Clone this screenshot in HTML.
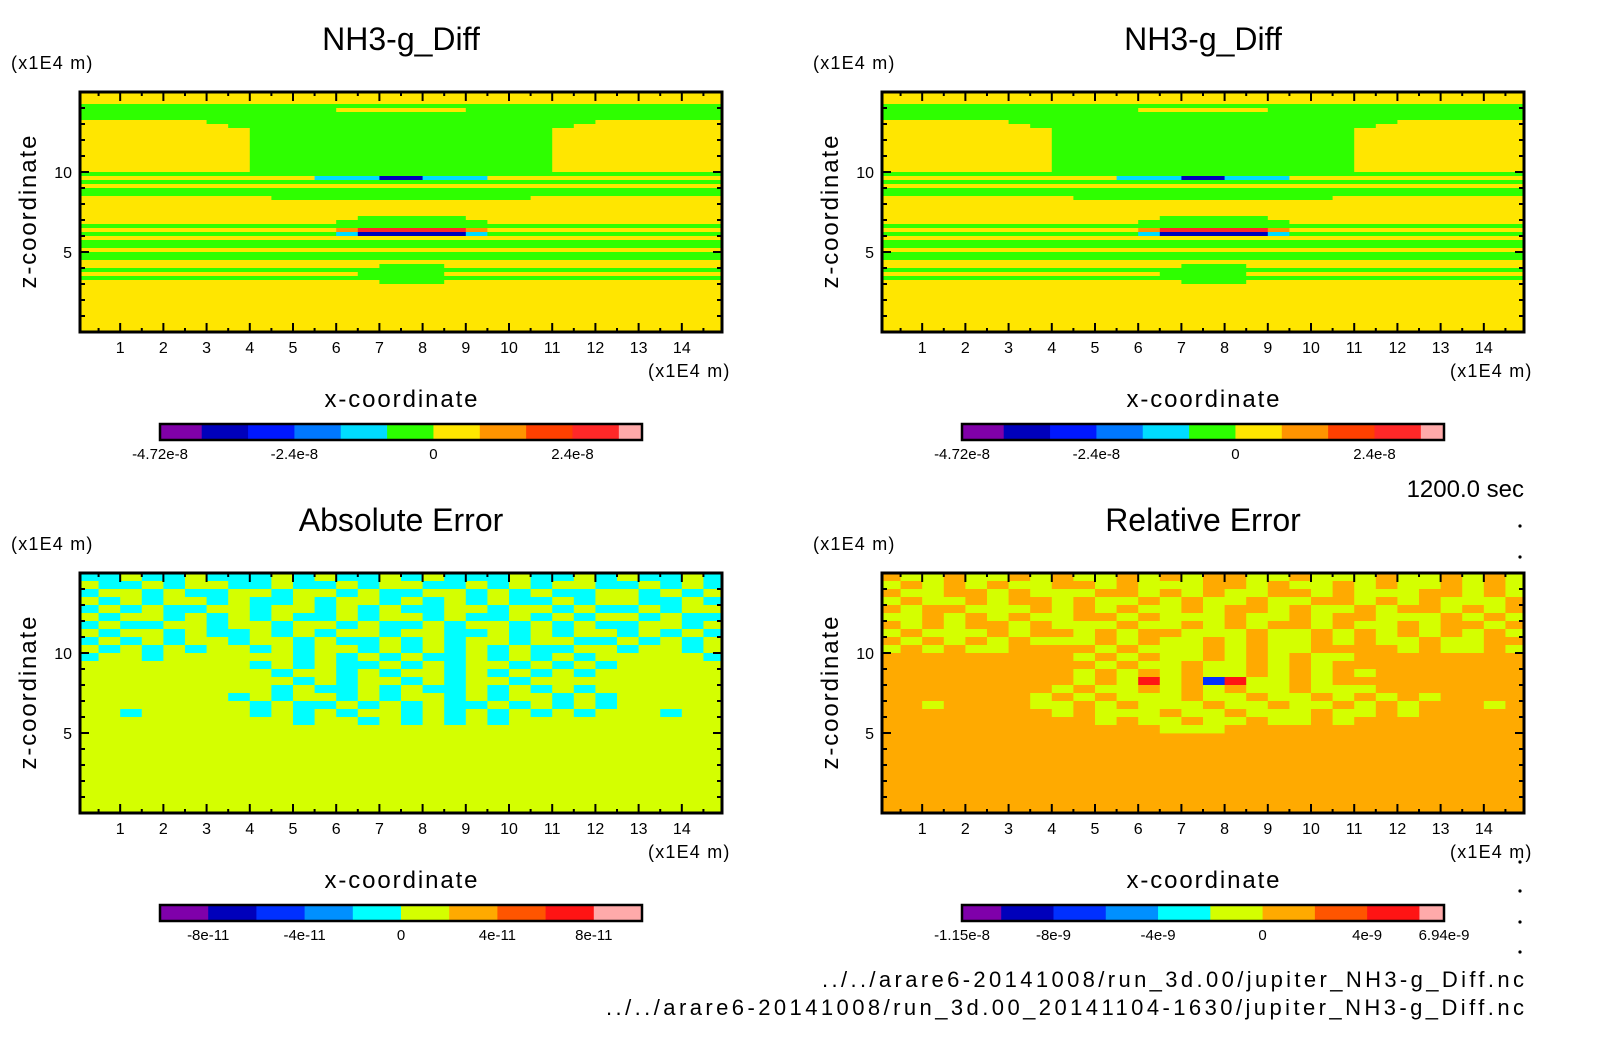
<!DOCTYPE html>
<html><head><meta charset="utf-8"><style>
html,body{margin:0;padding:0;background:#fff;}
svg{display:block;font-family:"Liberation Sans",sans-serif;}
</style></head><body>
<svg id="fig" width="1604" height="1054" viewBox="0 0 1604 1054" xmlns="http://www.w3.org/2000/svg"></svg>
<script>
// ---------- data ----------
const xTicks = [1,2,3,4,5,6,7,8,9,10,11,12,13,14];
const zTicks = [5,10];
const xDomain = [0.07,14.93];
const zDomain = [0,15];
const gridX = [0,15];
const gridZ = [0,15];

// NH3-g_Diff field (run-length rows, top z=15 to bottom z=0, 30 cols x 60 rows)
const diffRows = [
"30Y","30Y","30Y","30G","12G6Y12G","30G","30G","6Y18G6Y","7Y16G7Y",
"8Y14G8Y","8Y14G8Y","8Y14G8Y","8Y14G8Y","8Y14G8Y","8Y14G8Y","8Y14G8Y","8Y14G8Y","8Y14G8Y","8Y14G8Y","8Y14G8Y",
"30G","11Y3c2b3c11Y","30G","30Y","30G","30G","9Y12G9Y","30Y","30Y","30Y","30Y",
"13Y5G12Y","12Y7G11Y","30G","12Y1o5r1o11Y","12G1c5b1c11G","30Y","30G","30G","30Y","30G","30G","30Y",
"14Y3G13Y","30G","13Y4G13Y","30G","14Y3G13Y",
"30Y","30Y","30Y","30Y","30Y","30Y","30Y","30Y","30Y","30Y","30Y","30Y"
];
// Absolute error field (30 cols x 30 rows)
const absRows = [
"cc.cc.ccc.c.cc.c.ccc.cc.c.cc.c",
".cc.c..cc.cc.c..cc.c.c..cc.c.c",
"c..c.cc..c..c.cc..c.c.cc..c.c.",
".c.c..c.cc.c..c.c.c.cc.c..cc.c",
"c.c.cc..c..c.c.cc..c..c.cc.c..",
".c..c.c.c.cc.c..c.cc.c.c..c.cc",
"c.cc..c..c..c.cc.c..c.c.cc..c.",
".c..c.cc.c.c..c..cc.c.c..c.c.c",
"c.c.c..c..c.cc.c.c..c..cc.c.c.",
".c.c.c..c.c..c.c.c.c.cc..c..c.",
"c..c......c.c.c.cc.c.c.c.....c",
"........c.c.cc.c.c..c.c.c.....",
".........c..c.c..c.c.c.c......",
"..........c.c..c.c..c.........",
".........c.cc.c.cc.c.c.c......",
".......c.c..c.c..c.c..c.c.....",
"........c.cc.c.c.cc.c.c.c.....",
"..c.....c.c.c..c.c.c.c.c...c..",
"..........c..c.c.c.c..........",
".............................."
];
// Relative error field (30 cols x 30 rows)
const relRows = [
"oggoggogoggogogooggogggoggogog",
"gogogoggoogogggoogoggogoggogog",
"oggoogogggoogogoggoogogggoogog",
"goggogoogoggogoggoggoogogogggo",
"ogoogggogogoggogoogoggogoogogo",
"ggogogoggoogogggoggogoogggogog",
"ogogoogogggoggogogoogoggogoogo",
"gogggogoogogoogggoggogogogogog",
"ogogogogggogoggogoggogoggoggoo",
"gogoggoooogogggogoggoooogoggog",
"ooooooooogogoggogogoggoooooooo",
"oooooooooogoggoggogogooooooooo",
"ooooooooogogogoggogogogooooooo",
"ooooooooogogrgobrggogooooooooo",
"oooooooogoggogogoggogggooooooo",
"ooooooogogogggoggoggogogogoooo",
"oogooooggogogggoggoggogogooogo",
"oooooooogogggoggogggoggogooooo",
"oooooooooogoggoggoggogoooooooo",
"ooooooooooooogggoooooooooooooo"
];
const diffTicks = ["-4.72e-8","-2.4e-8","0","2.4e-8"];
const diffTickVals = [-4.72e-8,-2.4e-8,0,2.4e-8];
const diffLevels = [-4.72e-8,-4.0e-8,-3.2e-8,-2.4e-8,-1.6e-8,-0.8e-8,0,0.8e-8,1.6e-8,2.4e-8,3.2e-8,3.6e-8];
const absTicks = ["-8e-11","-4e-11","0","4e-11","8e-11"];
const absTickVals = [-8e-11,-4e-11,0,4e-11,8e-11];
const absLevels = [-1.0e-10,-8e-11,-6e-11,-4e-11,-2e-11,0,2e-11,4e-11,6e-11,8e-11,1.0e-10];
const relTicks = ["-1.15e-8","-8e-9","-4e-9","0","4e-9","6.94e-9"];
const relTickVals = [-1.15e-8,-8e-9,-4e-9,0,4e-9,6.94e-9];
const relLevels = [-1.15e-8,-1.0e-8,-8e-9,-6e-9,-4e-9,-2e-9,0,2e-9,4e-9,6e-9,6.94e-9];

const diffColors = ["#8000a8","#0000bb","#0018ff","#0078ff","#00dcff","#2cff00","#ffe600","#ff9400","#ff4000","#ff2828","#ffaaaa"];
const errColors = ["#7f00aa","#0000bb","#0030ff","#0090ff","#00ffff","#d4ff00","#ffaa00","#ff5500","#ff1414","#ffaaaa"];
const diffMap = {Y:"#ffe600",G:"#2eff00",c:"#00dcff",b:"#0000bb",r:"#ff2828",o:"#ff9400"};
const absMap = {".":"#d4ff00",c:"#00ffff"};
const relMap = {o:"#ffaa00",g:"#d4ff00",r:"#ff1414",b:"#0030ff"};

// ---------- helpers ----------
const NS = "http://www.w3.org/2000/svg";
const svg = document.getElementById('fig');
function mk(tag, attrs, parent){
  const e = document.createElementNS(NS, tag);
  for (const k in attrs) e.setAttribute(k, attrs[k]);
  (parent||svg).appendChild(e);
  return e;
}
function rle(s){
  let out="", m, re=/(\d+)(\D)/g;
  while((m=re.exec(s))) out += m[2].repeat(+m[1]);
  return out;
}
const PL=80, PR=722, PT=92, PB=332;
function xs(v){ return PL + (v-xDomain[0])/(xDomain[1]-xDomain[0])*(PR-PL); }
function zs(v){ return PB - (v-zDomain[0])/(zDomain[1]-zDomain[0])*(PB-PT); }

function panel(ox, oy, idx, title, rows, cmap, expand, nrowsFallbackBg, cb){
  const g = mk('g', {transform:`translate(${ox},${oy})`});
  
  
  const t = mk('text', {x:401, y:50, 'font-size':32, 'text-anchor':'middle', fill:'#000'}, g);
  t.textContent = title;
  
  
  const u = mk('text', {x:11, y:69, 'font-size':18, 'letter-spacing':1.2, fill:'#000'}, g);
  u.textContent = '(x1E4 m)';
  
  
  const cid = 'clip'+idx;
  const cp = mk('clipPath', {id:cid}, g);
  mk('rect', {x:PL, y:PT, width:PR-PL, height:PB-PT}, cp);
  const field = mk('g', {'clip-path':`url(#${cid})`}, g);
  
  
  const nRows = expand ? rows.length : 30;
  const nCols = 30;
  const dz = (gridZ[1]-gridZ[0])/nRows, dx = (gridX[1]-gridX[0])/nCols;
  mk('rect', {x:PL, y:PT, width:PR-PL, height:PB-PT, fill:nrowsFallbackBg}, field);
  for (let r=0; r<rows.length; r++){
    const s = expand ? rle(rows[r]) : rows[r];
    const zTop = gridZ[1] - r*dz, zBot = zTop - dz;
    for (let c=0; c<nCols; c++){
      const ch = s.charAt(c);
      if (!ch || !cmap[ch]) continue;
      const x0 = gridX[0] + c*dx;
      const cell = mk('rect', {x:xs(x0), y:zs(zTop), width:xs(x0+dx)-xs(x0)+0.4, height:zs(zBot)-zs(zTop)+0.4, fill:cmap[ch]}, field);
      
      
    }
  }
  // ticks
  const tk = mk('g', {stroke:'#000', 'stroke-width':2}, g);
  
  
  for (let v=0.5; v<15; v+=0.5){
    const X = xs(v); if (X<PL+1||X>PR-1) continue;
    const L = Number.isInteger(v) ? 9 : 4;
    mk('line', {x1:X, y1:PB, x2:X, y2:PB-L}, tk);
    mk('line', {x1:X, y1:PT, x2:X, y2:PT+L}, tk);
  }
  for (let v=1; v<15; v++){
    const Y = zs(v);
    const L = (v%5===0) ? 9 : 5;
    mk('line', {x1:PL, y1:Y, x2:PL+L, y2:Y}, tk);
    mk('line', {x1:PR, y1:Y, x2:PR-L, y2:Y}, tk);
  }
  const fr = mk('rect', {x:PL, y:PT, width:PR-PL, height:PB-PT, fill:'none', stroke:'#000', 'stroke-width':3}, g);
  
  
  xTicks.forEach(v=>{
    const l = mk('text', {x:xs(v), y:353, 'font-size':16, 'text-anchor':'middle'}, g);
    l.textContent = v;
    
    
  });
  zTicks.forEach(v=>{
    const l = mk('text', {x:72, y:zs(v)+6, 'font-size':16, 'text-anchor':'end'}, g);
    l.textContent = v;
    
    
  });
  const xu = mk('text', {x:648, y:377, 'font-size':18, 'letter-spacing':1.2}, g);
  xu.textContent = '(x1E4 m)';
  
  
  const xt = mk('text', {x:401, y:407, 'font-size':24, 'text-anchor':'middle', textLength:153}, g);
  xt.textContent = 'x-coordinate';
  
  
  const yt = mk('text', {x:0, y:0, 'font-size':24, 'text-anchor':'middle', textLength:153, transform:'translate(36,212) rotate(-90)'}, g);
  yt.textContent = 'z-coordinate';
  
  
  // colorbar
  const cbg = mk('g', {}, g);
  
  
  const lv = cb.levels, cx0 = cb.x0, cx1 = cb.x1;
  const cxs = v => cx0 + (v-lv[0])/(lv[lv.length-1]-lv[0])*(cx1-cx0);
  for (let i=0; i<lv.length-1; i++){
    const s = mk('rect', {x:cxs(lv[i]), y:424, width:cxs(lv[i+1])-cxs(lv[i])+0.5, height:16, fill:cb.colors[i]}, cbg);
    
    
  }
  mk('rect', {x:cx0, y:424, width:cx1-cx0, height:16, fill:'none', stroke:'#000', 'stroke-width':2.5}, cbg);
  cb.vals.forEach((v,i)=>{
    const l = mk('text', {x:cxs(v), y:459, 'font-size':15, 'text-anchor':'middle'}, cbg);
    l.textContent = cb.labels[i];
    
    
  });
}

const cbDiff = {levels:diffLevels, colors:diffColors, vals:diffTickVals, labels:diffTicks, x0:160, x1:642};
panel(0, 0, 1, 'NH3-g_Diff', diffRows, diffMap, true, '#ffe600', cbDiff);
panel(802, 0, 2, 'NH3-g_Diff', diffRows, diffMap, true, '#ffe600', cbDiff);
panel(0, 481, 3, 'Absolute Error', absRows, absMap, false, '#d4ff00',
  {levels:absLevels, colors:errColors, vals:absTickVals, labels:absTicks, x0:160, x1:642});
panel(802, 481, 4, 'Relative Error', relRows, relMap, false, '#ffaa00',
  {levels:relLevels, colors:errColors, vals:relTickVals, labels:relTicks, x0:160, x1:642});

// annotations
const tm = mk('text', {x:1524, y:497, 'font-size':24, 'text-anchor':'end'});
tm.textContent = '1200.0 sec';


const f1 = mk('text', {x:1524, y:987, 'font-size':22, 'text-anchor':'end', textLength:702});
f1.textContent = '../../arare6-20141008/run_3d.00/jupiter_NH3-g_Diff.nc';


const f2 = mk('text', {x:1524, y:1015, 'font-size':22, 'text-anchor':'end', textLength:918});
f2.textContent = '../../arare6-20141008/run_3d.00_20141104-1630/jupiter_NH3-g_Diff.nc';


[526,557,862,891,922,952].forEach(y=>{
  const d = mk('circle', {cx:1520, cy:y, r:1.6, fill:'#000'});
  
  
});
</script>
</body></html>
